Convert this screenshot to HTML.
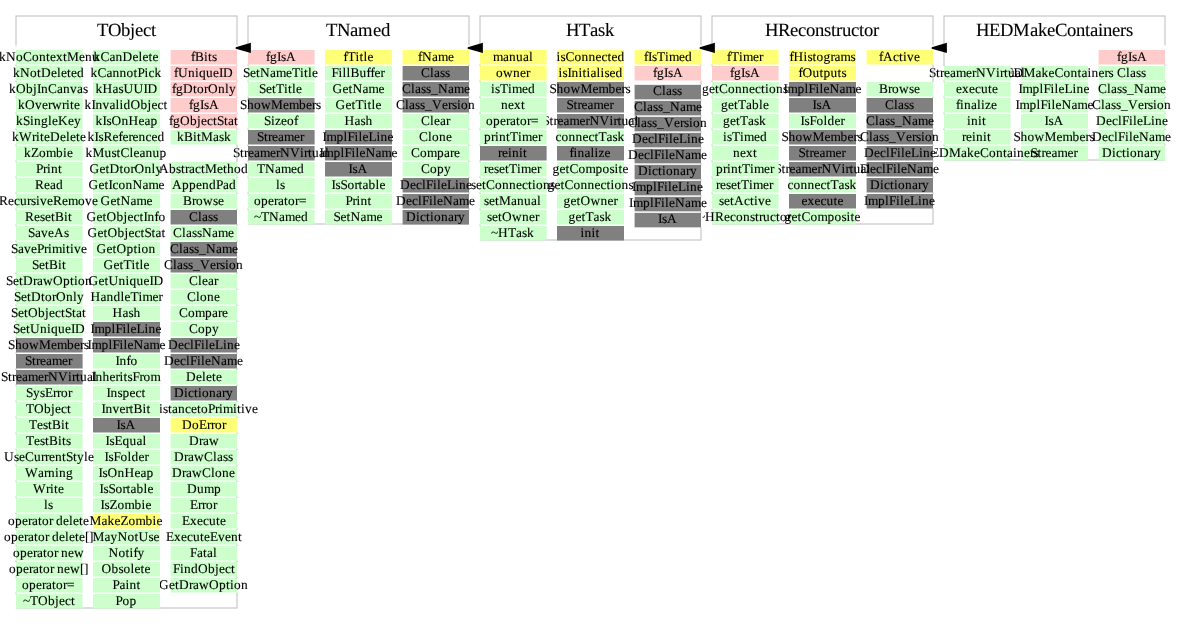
<!DOCTYPE html>
<html><head><meta charset="utf-8"><style>
html,body{margin:0;padding:0;background:#fff;width:1181px;height:624px;overflow:hidden}
svg{display:block}
text{text-rendering:geometricPrecision;font-family:"Liberation Serif",serif;fill:#000;stroke:#000;stroke-width:0.1px}

svg{will-change:transform}
</style></head><body>
<svg width="1181" height="624" viewBox="0 0 1181 624">
<rect x="944" y="16" width="221" height="144" fill="none" stroke="#bcbcbc" stroke-width="1"/>
<text x="976 989 1000 1013 1030 1038 1047 1055 1067 1076 1085 1090 1098 1103 1112 1120 1126" y="36" font-size="18.67">HEDMakeContainers</text>
<rect x="1164" y="45.5" width="2.5" height="19.0" fill="#fff"/>
<rect x="1098.6" y="50" width="66.4" height="14.5" fill="#ffcccc"/><text x="1117 1121 1128 1132 1137" y="60.8" font-size="13.333">fgIsA</text>
<rect x="1164" y="66" width="2.5" height="14.5" fill="#fff"/>
<rect x="1098.6" y="66" width="66.4" height="14.5" fill="#ccffcc"/><text x="1117 1126 1130 1136 1141" y="76.8" font-size="13.333">Class</text>
<rect x="1164" y="82" width="2.5" height="14.5" fill="#fff"/>
<rect x="1098.6" y="82" width="66.4" height="14.5" fill="#ccffcc"/><text x="1098 1107 1111 1117 1122 1127 1134 1144 1150 1160" y="92.8" font-size="13.333">Class_Name</text>
<rect x="1164" y="98" width="2.5" height="14.5" fill="#fff"/>
<rect x="1098.6" y="98" width="66.4" height="14.5" fill="#ccffcc"/><text x="1092 1101 1105 1111 1116 1121 1128 1138 1144 1148 1153 1157 1164" y="108.8" font-size="13.333">Class_Version</text>
<rect x="1164" y="114" width="2.5" height="14.5" fill="#fff"/>
<rect x="1098.6" y="114" width="66.4" height="14.5" fill="#ccffcc"/><text x="1096 1106 1112 1118 1122 1129 1133 1137 1143 1151 1155 1162" y="124.8" font-size="13.333">DeclFileLine</text>
<rect x="1164" y="130" width="2.5" height="14.5" fill="#fff"/>
<rect x="1098.6" y="130" width="66.4" height="14.5" fill="#ccffcc"/><text x="1092 1102 1108 1114 1118 1125 1129 1133 1139 1149 1155 1165" y="140.8" font-size="13.333">DeclFileName</text>
<rect x="1164" y="146" width="2.5" height="14.5" fill="#fff"/>
<rect x="1098.6" y="146" width="66.4" height="14.5" fill="#ccffcc"/><text x="1102 1112 1116 1122 1126 1130 1137 1144 1150 1154" y="156.8" font-size="13.333">Dictionary</text>
<rect x="1021" y="66" width="67" height="14.5" fill="#ccffcc"/><text x="995.5 1005.5 1013.5 1023.5 1035.5 1041.5 1048.5 1054.5 1063.5 1070.5 1077.5 1081.5 1087.5 1091.5 1098.5 1104.5 1108.5" y="76.8" font-size="13.333">HEDMakeContainers</text>
<rect x="1021" y="82" width="67" height="14.5" fill="#ccffcc"/><text x="1018.5 1022.5 1032.5 1039.5 1043.5 1050.5 1054.5 1058.5 1064.5 1072.5 1076.5 1083.5" y="92.8" font-size="13.333">ImplFileLine</text>
<rect x="1021" y="98" width="67" height="14.5" fill="#ccffcc"/><text x="1015.5 1019.5 1029.5 1036.5 1040.5 1047.5 1051.5 1055.5 1061.5 1071.5 1077.5 1087.5" y="108.8" font-size="13.333">ImplFileName</text>
<rect x="1021" y="114" width="67" height="14.5" fill="#ccffcc"/><text x="1044.5 1048.5 1053.5" y="124.8" font-size="13.333">IsA</text>
<rect x="1021" y="130" width="67" height="14.5" fill="#ccffcc"/><text x="1013.5 1020.5 1027.5 1034.5 1044.5 1056.5 1062.5 1072.5 1079.5 1085.5 1089.5" y="140.8" font-size="13.333">ShowMembers</text>
<rect x="1021" y="146" width="67" height="14.5" fill="#ccffcc"/><text x="1030.5 1037.5 1041.5 1045.5 1051.5 1057.5 1067.5 1073.5" y="156.8" font-size="13.333">Streamer</text>
<rect x="942.5" y="66" width="2.5" height="14.5" fill="#fff"/>
<rect x="944" y="66" width="66.6" height="14.5" fill="#ccffcc"/><text x="929 936 940 944 950 956 966 972 976 986 996 1000 1004 1008 1015 1021" y="76.8" font-size="13.333">StreamerNVirtual</text>
<rect x="942.5" y="82" width="2.5" height="14.5" fill="#fff"/>
<rect x="944" y="82" width="66.6" height="14.5" fill="#ccffcc"/><text x="956 962 969 975 981 988 992" y="92.8" font-size="13.333">execute</text>
<rect x="942.5" y="98" width="2.5" height="14.5" fill="#fff"/>
<rect x="944" y="98" width="66.6" height="14.5" fill="#ccffcc"/><text x="956 960 964 971 977 981 985 991" y="108.8" font-size="13.333">finalize</text>
<rect x="942.5" y="114" width="2.5" height="14.5" fill="#fff"/>
<rect x="944" y="114" width="66.6" height="14.5" fill="#ccffcc"/><text x="967 971 978 982" y="124.8" font-size="13.333">init</text>
<rect x="942.5" y="130" width="2.5" height="14.5" fill="#fff"/>
<rect x="944" y="130" width="66.6" height="14.5" fill="#ccffcc"/><text x="962 966 972 976 983 987" y="140.8" font-size="13.333">reinit</text>
<rect x="942.5" y="146" width="2.5" height="14.5" fill="#fff"/>
<rect x="944" y="146" width="66.6" height="14.5" fill="#ccffcc"/><text x="914 921 931 939 949 961 967 974 980 989 996 1003 1007 1013 1017 1024 1030 1034" y="156.8" font-size="13.333">~HEDMakeContainers</text>
<rect x="712" y="16" width="221" height="208" fill="none" stroke="#bcbcbc" stroke-width="1"/>
<text x="765 778 790 798 806 815 824 831 836 842 851 859 864 873" y="36" font-size="18.67">HReconstructor</text>
<rect x="932" y="45.5" width="2.5" height="19.0" fill="#fff"/>
<rect x="866.6" y="50" width="66.4" height="14.5" fill="#ffff77"/><text x="879 883 893 899 903 907 914" y="60.8" font-size="13.333">fActive</text>
<rect x="932" y="82" width="2.5" height="14.5" fill="#fff"/>
<rect x="866.6" y="82" width="66.4" height="14.5" fill="#ccffcc"/><text x="879 888 892 899 909 914" y="92.8" font-size="13.333">Browse</text>
<rect x="932" y="98" width="2.5" height="14.5" fill="#fff"/>
<rect x="866.6" y="98" width="66.4" height="14.5" fill="#808080"/><text x="885 894 898 904 909" y="108.8" font-size="13.333">Class</text>
<rect x="932" y="114" width="2.5" height="14.5" fill="#fff"/>
<rect x="866.6" y="114" width="66.4" height="14.5" fill="#808080"/><text x="866 875 879 885 890 895 902 912 918 928" y="124.8" font-size="13.333">Class_Name</text>
<rect x="932" y="130" width="2.5" height="14.5" fill="#fff"/>
<rect x="866.6" y="130" width="66.4" height="14.5" fill="#808080"/><text x="860 869 873 879 884 889 896 906 912 916 921 925 932" y="140.8" font-size="13.333">Class_Version</text>
<rect x="932" y="146" width="2.5" height="14.5" fill="#fff"/>
<rect x="866.6" y="146" width="66.4" height="14.5" fill="#808080"/><text x="864 874 880 886 890 897 901 905 911 919 923 930" y="156.8" font-size="13.333">DeclFileLine</text>
<rect x="932" y="162" width="2.5" height="14.5" fill="#fff"/>
<rect x="866.6" y="162" width="66.4" height="14.5" fill="#808080"/><text x="860 870 876 882 886 893 897 901 907 917 923 933" y="172.8" font-size="13.333">DeclFileName</text>
<rect x="932" y="178" width="2.5" height="14.5" fill="#fff"/>
<rect x="866.6" y="178" width="66.4" height="14.5" fill="#808080"/><text x="870 880 884 890 894 898 905 912 918 922" y="188.8" font-size="13.333">Dictionary</text>
<rect x="932" y="194" width="2.5" height="14.5" fill="#fff"/>
<rect x="866.6" y="194" width="66.4" height="14.5" fill="#808080"/><text x="864 868 878 885 889 896 900 904 910 918 922 929" y="204.8" font-size="13.333">ImplFileLine</text>
<rect x="789" y="50" width="67" height="14.5" fill="#ffff77"/><text x="789.5 793.5 803.5 807.5 812.5 816.5 823.5 830.5 834.5 840.5 850.5" y="60.8" font-size="13.333">fHistograms</text>
<rect x="789" y="66" width="67" height="14.5" fill="#ffff77"/><text x="798.5 802.5 812.5 819.5 823.5 830.5 837.5 841.5" y="76.8" font-size="13.333">fOutputs</text>
<rect x="789" y="82" width="67" height="14.5" fill="#808080"/><text x="783.5 787.5 797.5 804.5 808.5 815.5 819.5 823.5 829.5 839.5 845.5 855.5" y="92.8" font-size="13.333">ImplFileName</text>
<rect x="789" y="98" width="67" height="14.5" fill="#808080"/><text x="812.5 816.5 821.5" y="108.8" font-size="13.333">IsA</text>
<rect x="789" y="114" width="67" height="14.5" fill="#ccffcc"/><text x="800.5 804.5 809.5 816.5 823.5 827.5 834.5 840.5" y="124.8" font-size="13.333">IsFolder</text>
<rect x="789" y="130" width="67" height="14.5" fill="#808080"/><text x="781.5 788.5 795.5 802.5 812.5 824.5 830.5 840.5 847.5 853.5 857.5" y="140.8" font-size="13.333">ShowMembers</text>
<rect x="789" y="146" width="67" height="14.5" fill="#808080"/><text x="798.5 805.5 809.5 813.5 819.5 825.5 835.5 841.5" y="156.8" font-size="13.333">Streamer</text>
<rect x="789" y="162" width="67" height="14.5" fill="#808080"/><text x="774.5 781.5 785.5 789.5 795.5 801.5 811.5 817.5 821.5 831.5 841.5 845.5 849.5 853.5 860.5 866.5" y="172.8" font-size="13.333">StreamerNVirtual</text>
<rect x="789" y="178" width="67" height="14.5" fill="#ccffcc"/><text x="787.5 793.5 800.5 807.5 814.5 820.5 826.5 830.5 838.5 844.5 849.5" y="188.8" font-size="13.333">connectTask</text>
<rect x="789" y="194" width="67" height="14.5" fill="#808080"/><text x="801.5 807.5 814.5 820.5 826.5 833.5 837.5" y="204.8" font-size="13.333">execute</text>
<rect x="789" y="210" width="67" height="14.5" fill="#ccffcc"/><text x="784.5 791.5 797.5 801.5 810.5 817.5 827.5 834.5 841.5 846.5 850.5 854.5" y="220.8" font-size="13.333">getComposite</text>
<rect x="710.5" y="45.5" width="2.5" height="19.0" fill="#fff"/>
<rect x="712" y="50" width="66.6" height="14.5" fill="#ffff77"/><text x="727 731 739 743 753 759" y="60.8" font-size="13.333">fTimer</text>
<rect x="710.5" y="66" width="2.5" height="14.5" fill="#fff"/>
<rect x="712" y="66" width="66.6" height="14.5" fill="#ffcccc"/><text x="730 734 741 745 750" y="76.8" font-size="13.333">fgIsA</text>
<rect x="710.5" y="82" width="2.5" height="14.5" fill="#fff"/>
<rect x="712" y="82" width="66.6" height="14.5" fill="#ccffcc"/><text x="702 709 715 719 728 735 742 749 755 761 765 769 776 783" y="92.8" font-size="13.333">getConnections</text>
<rect x="710.5" y="98" width="2.5" height="14.5" fill="#fff"/>
<rect x="712" y="98" width="66.6" height="14.5" fill="#ccffcc"/><text x="721 728 734 738 746 752 759 763" y="108.8" font-size="13.333">getTable</text>
<rect x="710.5" y="114" width="2.5" height="14.5" fill="#fff"/>
<rect x="712" y="114" width="66.6" height="14.5" fill="#ccffcc"/><text x="723 730 736 740 748 754 759" y="124.8" font-size="13.333">getTask</text>
<rect x="710.5" y="130" width="2.5" height="14.5" fill="#fff"/>
<rect x="712" y="130" width="66.6" height="14.5" fill="#ccffcc"/><text x="723 727 732 740 744 754 760" y="140.8" font-size="13.333">isTimed</text>
<rect x="710.5" y="146" width="2.5" height="14.5" fill="#fff"/>
<rect x="712" y="146" width="66.6" height="14.5" fill="#ccffcc"/><text x="733 740 746 753" y="156.8" font-size="13.333">next</text>
<rect x="710.5" y="162" width="2.5" height="14.5" fill="#fff"/>
<rect x="712" y="162" width="66.6" height="14.5" fill="#ccffcc"/><text x="716 723 727 731 738 742 750 754 764 770" y="172.8" font-size="13.333">printTimer</text>
<rect x="710.5" y="178" width="2.5" height="14.5" fill="#fff"/>
<rect x="712" y="178" width="66.6" height="14.5" fill="#ccffcc"/><text x="716 720 726 731 737 741 749 753 763 769" y="188.8" font-size="13.333">resetTimer</text>
<rect x="710.5" y="194" width="2.5" height="14.5" fill="#fff"/>
<rect x="712" y="194" width="66.6" height="14.5" fill="#ccffcc"/><text x="719 724 730 734 744 750 754 758 765" y="204.8" font-size="13.333">setActive</text>
<rect x="710.5" y="210" width="2.5" height="14.5" fill="#fff"/>
<rect x="712" y="210" width="66.6" height="14.5" fill="#ccffcc"/><text x="698 705 715 724 730 736 743 750 755 759 763 770 776 780 787" y="220.8" font-size="13.333">~HReconstructor</text>
<rect x="480" y="16" width="221" height="224" fill="none" stroke="#bcbcbc" stroke-width="1"/>
<text x="566 579 590 598 605" y="36" font-size="18.67">HTask</text>
<rect x="700" y="45.5" width="2.5" height="19.0" fill="#fff"/>
<rect x="634.6" y="50" width="66.4" height="14.5" fill="#ffff77"/><text x="644 648 652 657 665 669 679 685" y="60.8" font-size="13.333">fIsTimed</text>
<rect x="700" y="66" width="2.5" height="14.5" fill="#fff"/>
<rect x="634.6" y="66" width="66.4" height="14.5" fill="#ffcccc"/><text x="653 657 664 668 673" y="76.8" font-size="13.333">fgIsA</text>
<rect x="700" y="84.85" width="2.5" height="14.5" fill="#fff"/>
<rect x="634.6" y="84.85" width="66.4" height="14.5" fill="#808080"/><text x="653 662 666 672 677" y="94.8" font-size="13.333">Class</text>
<rect x="700" y="100.85" width="2.5" height="14.5" fill="#fff"/>
<rect x="634.6" y="100.85" width="66.4" height="14.5" fill="#808080"/><text x="634 643 647 653 658 663 670 680 686 696" y="110.8" font-size="13.333">Class_Name</text>
<rect x="700" y="116.85" width="2.5" height="14.5" fill="#fff"/>
<rect x="634.6" y="116.85" width="66.4" height="14.5" fill="#808080"/><text x="628 637 641 647 652 657 664 674 680 684 689 693 700" y="126.8" font-size="13.333">Class_Version</text>
<rect x="700" y="132.85" width="2.5" height="14.5" fill="#fff"/>
<rect x="634.6" y="132.85" width="66.4" height="14.5" fill="#808080"/><text x="632 642 648 654 658 665 669 673 679 687 691 698" y="142.8" font-size="13.333">DeclFileLine</text>
<rect x="700" y="148.85" width="2.5" height="14.5" fill="#fff"/>
<rect x="634.6" y="148.85" width="66.4" height="14.5" fill="#808080"/><text x="628 638 644 650 654 661 665 669 675 685 691 701" y="158.8" font-size="13.333">DeclFileName</text>
<rect x="700" y="164.85" width="2.5" height="14.5" fill="#fff"/>
<rect x="634.6" y="164.85" width="66.4" height="14.5" fill="#808080"/><text x="638 648 652 658 662 666 673 680 686 690" y="174.8" font-size="13.333">Dictionary</text>
<rect x="700" y="180.85" width="2.5" height="14.5" fill="#fff"/>
<rect x="634.6" y="180.85" width="66.4" height="14.5" fill="#808080"/><text x="632 636 646 653 657 664 668 672 678 686 690 697" y="190.8" font-size="13.333">ImplFileLine</text>
<rect x="700" y="196.85" width="2.5" height="14.5" fill="#fff"/>
<rect x="634.6" y="196.85" width="66.4" height="14.5" fill="#808080"/><text x="629 633 643 650 654 661 665 669 675 685 691 701" y="206.8" font-size="13.333">ImplFileName</text>
<rect x="700" y="212.85" width="2.5" height="14.5" fill="#fff"/>
<rect x="634.6" y="212.85" width="66.4" height="14.5" fill="#808080"/><text x="658 662 667" y="222.8" font-size="13.333">IsA</text>
<rect x="557" y="50" width="67" height="14.5" fill="#ffff77"/><text x="556.5 560.5 565.5 574.5 581.5 588.5 595.5 601.5 607.5 611.5 617.5" y="60.8" font-size="13.333">isConnected</text>
<rect x="557" y="66" width="67" height="14.5" fill="#ffff77"/><text x="558.5 562.5 567.5 571.5 578.5 582.5 586.5 590.5 596.5 600.5 604.5 609.5 615.5" y="76.8" font-size="13.333">isInitialised</text>
<rect x="557" y="82" width="67" height="14.5" fill="#808080"/><text x="549.5 556.5 563.5 570.5 580.5 592.5 598.5 608.5 615.5 621.5 625.5" y="92.8" font-size="13.333">ShowMembers</text>
<rect x="557" y="98" width="67" height="14.5" fill="#808080"/><text x="566.5 573.5 577.5 581.5 587.5 593.5 603.5 609.5" y="108.8" font-size="13.333">Streamer</text>
<rect x="557" y="114" width="67" height="14.5" fill="#808080"/><text x="542.5 549.5 553.5 557.5 563.5 569.5 579.5 585.5 589.5 599.5 609.5 613.5 617.5 621.5 628.5 634.5" y="124.8" font-size="13.333">StreamerNVirtual</text>
<rect x="557" y="130" width="67" height="14.5" fill="#ccffcc"/><text x="555.5 561.5 568.5 575.5 582.5 588.5 594.5 598.5 606.5 612.5 617.5" y="140.8" font-size="13.333">connectTask</text>
<rect x="557" y="146" width="67" height="14.5" fill="#808080"/><text x="569.5 573.5 577.5 584.5 590.5 594.5 598.5 604.5" y="156.8" font-size="13.333">finalize</text>
<rect x="557" y="162" width="67" height="14.5" fill="#ccffcc"/><text x="552.5 559.5 565.5 569.5 578.5 585.5 595.5 602.5 609.5 614.5 618.5 622.5" y="172.8" font-size="13.333">getComposite</text>
<rect x="557" y="178" width="67" height="14.5" fill="#ccffcc"/><text x="547.5 554.5 560.5 564.5 573.5 580.5 587.5 594.5 600.5 606.5 610.5 614.5 621.5 628.5" y="188.8" font-size="13.333">getConnections</text>
<rect x="557" y="194" width="67" height="14.5" fill="#ccffcc"/><text x="563.5 570.5 576.5 580.5 590.5 600.5 607.5 613.5" y="204.8" font-size="13.333">getOwner</text>
<rect x="557" y="210" width="67" height="14.5" fill="#ccffcc"/><text x="568.5 575.5 581.5 585.5 593.5 599.5 604.5" y="220.8" font-size="13.333">getTask</text>
<rect x="557" y="226" width="67" height="14.5" fill="#808080"/><text x="580.5 584.5 591.5 595.5" y="236.8" font-size="13.333">init</text>
<rect x="478.5" y="45.5" width="2.5" height="19.0" fill="#fff"/>
<rect x="480" y="50" width="66.6" height="14.5" fill="#ffff77"/><text x="493 503 509 516 523 529" y="60.8" font-size="13.333">manual</text>
<rect x="478.5" y="66" width="2.5" height="14.5" fill="#fff"/>
<rect x="480" y="66" width="66.6" height="14.5" fill="#ffff77"/><text x="496 503 513 520 526" y="76.8" font-size="13.333">owner</text>
<rect x="478.5" y="82" width="2.5" height="14.5" fill="#fff"/>
<rect x="480" y="82" width="66.6" height="14.5" fill="#ccffcc"/><text x="491 495 500 508 512 522 528" y="92.8" font-size="13.333">isTimed</text>
<rect x="478.5" y="98" width="2.5" height="14.5" fill="#fff"/>
<rect x="480" y="98" width="66.6" height="14.5" fill="#ccffcc"/><text x="501 508 514 521" y="108.8" font-size="13.333">next</text>
<rect x="478.5" y="114" width="2.5" height="14.5" fill="#fff"/>
<rect x="480" y="114" width="66.6" height="14.5" fill="#ccffcc"/><text x="486 493 500 506 510 516 520 527 531" y="124.8" font-size="13.333">operator=</text>
<rect x="478.5" y="130" width="2.5" height="14.5" fill="#fff"/>
<rect x="480" y="130" width="66.6" height="14.5" fill="#ccffcc"/><text x="484 491 495 499 506 510 518 522 532 538" y="140.8" font-size="13.333">printTimer</text>
<rect x="478.5" y="146" width="2.5" height="14.5" fill="#fff"/>
<rect x="480" y="146" width="66.6" height="14.5" fill="#808080"/><text x="498 502 508 512 519 523" y="156.8" font-size="13.333">reinit</text>
<rect x="478.5" y="162" width="2.5" height="14.5" fill="#fff"/>
<rect x="480" y="162" width="66.6" height="14.5" fill="#ccffcc"/><text x="484 488 494 499 505 509 517 521 531 537" y="172.8" font-size="13.333">resetTimer</text>
<rect x="478.5" y="178" width="2.5" height="14.5" fill="#fff"/>
<rect x="480" y="178" width="66.6" height="14.5" fill="#ccffcc"/><text x="471 476 482 486 495 502 509 516 522 528 532 536 543 550" y="188.8" font-size="13.333">setConnections</text>
<rect x="478.5" y="194" width="2.5" height="14.5" fill="#fff"/>
<rect x="480" y="194" width="66.6" height="14.5" fill="#ccffcc"/><text x="484 489 495 499 511 517 524 531 537" y="204.8" font-size="13.333">setManual</text>
<rect x="478.5" y="210" width="2.5" height="14.5" fill="#fff"/>
<rect x="480" y="210" width="66.6" height="14.5" fill="#ccffcc"/><text x="487 492 498 502 512 522 529 535" y="220.8" font-size="13.333">setOwner</text>
<rect x="478.5" y="226" width="2.5" height="14.5" fill="#fff"/>
<rect x="480" y="226" width="66.6" height="14.5" fill="#ccffcc"/><text x="491 498 508 516 522 527" y="236.8" font-size="13.333">~HTask</text>
<rect x="248" y="16" width="221" height="208" fill="none" stroke="#bcbcbc" stroke-width="1"/>
<text x="326 337 350 358 373 381" y="36" font-size="18.67">TNamed</text>
<rect x="468" y="45.5" width="2.5" height="19.0" fill="#fff"/>
<rect x="402.6" y="50" width="66.4" height="14.5" fill="#ffff77"/><text x="418 422 432 438 448" y="60.8" font-size="13.333">fName</text>
<rect x="468" y="66" width="2.5" height="14.5" fill="#fff"/>
<rect x="402.6" y="66" width="66.4" height="14.5" fill="#808080"/><text x="421 430 434 440 445" y="76.8" font-size="13.333">Class</text>
<rect x="468" y="82" width="2.5" height="14.5" fill="#fff"/>
<rect x="402.6" y="82" width="66.4" height="14.5" fill="#808080"/><text x="402 411 415 421 426 431 438 448 454 464" y="92.8" font-size="13.333">Class_Name</text>
<rect x="468" y="98" width="2.5" height="14.5" fill="#fff"/>
<rect x="402.6" y="98" width="66.4" height="14.5" fill="#808080"/><text x="396 405 409 415 420 425 432 442 448 452 457 461 468" y="108.8" font-size="13.333">Class_Version</text>
<rect x="468" y="114" width="2.5" height="14.5" fill="#fff"/>
<rect x="402.6" y="114" width="66.4" height="14.5" fill="#ccffcc"/><text x="421 430 434 440 446" y="124.8" font-size="13.333">Clear</text>
<rect x="468" y="130" width="2.5" height="14.5" fill="#fff"/>
<rect x="402.6" y="130" width="66.4" height="14.5" fill="#ccffcc"/><text x="419 428 432 439 446" y="140.8" font-size="13.333">Clone</text>
<rect x="468" y="146" width="2.5" height="14.5" fill="#fff"/>
<rect x="402.6" y="146" width="66.4" height="14.5" fill="#ccffcc"/><text x="411 420 427 437 444 450 454" y="156.8" font-size="13.333">Compare</text>
<rect x="468" y="162" width="2.5" height="14.5" fill="#fff"/>
<rect x="402.6" y="162" width="66.4" height="14.5" fill="#ccffcc"/><text x="421 430 437 444" y="172.8" font-size="13.333">Copy</text>
<rect x="468" y="178" width="2.5" height="14.5" fill="#fff"/>
<rect x="402.6" y="178" width="66.4" height="14.5" fill="#808080"/><text x="400 410 416 422 426 433 437 441 447 455 459 466" y="188.8" font-size="13.333">DeclFileLine</text>
<rect x="468" y="194" width="2.5" height="14.5" fill="#fff"/>
<rect x="402.6" y="194" width="66.4" height="14.5" fill="#808080"/><text x="396 406 412 418 422 429 433 437 443 453 459 469" y="204.8" font-size="13.333">DeclFileName</text>
<rect x="468" y="210" width="2.5" height="14.5" fill="#fff"/>
<rect x="402.6" y="210" width="66.4" height="14.5" fill="#808080"/><text x="406 416 420 426 430 434 441 448 454 458" y="220.8" font-size="13.333">Dictionary</text>
<rect x="325" y="50" width="67" height="14.5" fill="#ffff77"/><text x="343.5 347.5 355.5 359.5 363.5 367.5" y="60.8" font-size="13.333">fTitle</text>
<rect x="325" y="66" width="67" height="14.5" fill="#ccffcc"/><text x="331.5 338.5 342.5 346.5 350.5 359.5 366.5 370.5 374.5 380.5" y="76.8" font-size="13.333">FillBuffer</text>
<rect x="325" y="82" width="67" height="14.5" fill="#ccffcc"/><text x="332.5 342.5 348.5 352.5 362.5 368.5 378.5" y="92.8" font-size="13.333">GetName</text>
<rect x="325" y="98" width="67" height="14.5" fill="#ccffcc"/><text x="335.5 345.5 351.5 355.5 363.5 367.5 371.5 375.5" y="108.8" font-size="13.333">GetTitle</text>
<rect x="325" y="114" width="67" height="14.5" fill="#ccffcc"/><text x="344.5 354.5 360.5 365.5" y="124.8" font-size="13.333">Hash</text>
<rect x="325" y="130" width="67" height="14.5" fill="#808080"/><text x="322.5 326.5 336.5 343.5 347.5 354.5 358.5 362.5 368.5 376.5 380.5 387.5" y="140.8" font-size="13.333">ImplFileLine</text>
<rect x="325" y="146" width="67" height="14.5" fill="#808080"/><text x="319.5 323.5 333.5 340.5 344.5 351.5 355.5 359.5 365.5 375.5 381.5 391.5" y="156.8" font-size="13.333">ImplFileName</text>
<rect x="325" y="162" width="67" height="14.5" fill="#808080"/><text x="348.5 352.5 357.5" y="172.8" font-size="13.333">IsA</text>
<rect x="325" y="178" width="67" height="14.5" fill="#ccffcc"/><text x="331.5 335.5 340.5 347.5 354.5 358.5 362.5 368.5 375.5 379.5" y="188.8" font-size="13.333">IsSortable</text>
<rect x="325" y="194" width="67" height="14.5" fill="#ccffcc"/><text x="345.5 352.5 356.5 360.5 367.5" y="204.8" font-size="13.333">Print</text>
<rect x="325" y="210" width="67" height="14.5" fill="#ccffcc"/><text x="333.5 340.5 346.5 350.5 360.5 366.5 376.5" y="220.8" font-size="13.333">SetName</text>
<rect x="246.5" y="45.5" width="2.5" height="19.0" fill="#fff"/>
<rect x="248" y="50" width="66.6" height="14.5" fill="#ffcccc"/><text x="266 270 277 281 286" y="60.8" font-size="13.333">fgIsA</text>
<rect x="246.5" y="66" width="2.5" height="14.5" fill="#fff"/>
<rect x="248" y="66" width="66.6" height="14.5" fill="#ccffcc"/><text x="243 250 256 260 270 276 286 292 300 304 308 312" y="76.8" font-size="13.333">SetNameTitle</text>
<rect x="246.5" y="82" width="2.5" height="14.5" fill="#fff"/>
<rect x="248" y="82" width="66.6" height="14.5" fill="#ccffcc"/><text x="259 266 272 276 284 288 292 296" y="92.8" font-size="13.333">SetTitle</text>
<rect x="246.5" y="98" width="2.5" height="14.5" fill="#fff"/>
<rect x="248" y="98" width="66.6" height="14.5" fill="#808080"/><text x="240 247 254 261 271 283 289 299 306 312 316" y="108.8" font-size="13.333">ShowMembers</text>
<rect x="246.5" y="114" width="2.5" height="14.5" fill="#fff"/>
<rect x="248" y="114" width="66.6" height="14.5" fill="#ccffcc"/><text x="264 271 275 281 287 294" y="124.8" font-size="13.333">Sizeof</text>
<rect x="246.5" y="130" width="2.5" height="14.5" fill="#fff"/>
<rect x="248" y="130" width="66.6" height="14.5" fill="#808080"/><text x="257 264 268 272 278 284 294 300" y="140.8" font-size="13.333">Streamer</text>
<rect x="246.5" y="146" width="2.5" height="14.5" fill="#fff"/>
<rect x="248" y="146" width="66.6" height="14.5" fill="#808080"/><text x="233 240 244 248 254 260 270 276 280 290 300 304 308 312 319 325" y="156.8" font-size="13.333">StreamerNVirtual</text>
<rect x="246.5" y="162" width="2.5" height="14.5" fill="#fff"/>
<rect x="248" y="162" width="66.6" height="14.5" fill="#ccffcc"/><text x="257 265 275 281 291 297" y="172.8" font-size="13.333">TNamed</text>
<rect x="246.5" y="178" width="2.5" height="14.5" fill="#fff"/>
<rect x="248" y="178" width="66.6" height="14.5" fill="#ccffcc"/><text x="276 280" y="188.8" font-size="13.333">ls</text>
<rect x="246.5" y="194" width="2.5" height="14.5" fill="#fff"/>
<rect x="248" y="194" width="66.6" height="14.5" fill="#ccffcc"/><text x="254 261 268 274 278 284 288 295 299" y="204.8" font-size="13.333">operator=</text>
<rect x="246.5" y="210" width="2.5" height="14.5" fill="#fff"/>
<rect x="248" y="210" width="66.6" height="14.5" fill="#ccffcc"/><text x="254 261 269 279 285 295 301" y="220.8" font-size="13.333">~TNamed</text>
<rect x="16" y="16" width="221" height="592" fill="none" stroke="#bcbcbc" stroke-width="1"/>
<text x="97 108 121 130 135 143 151" y="36" font-size="18.67">TObject</text>
<rect x="236" y="45.5" width="2.5" height="19.0" fill="#fff"/>
<rect x="170.6" y="50" width="66.4" height="14.5" fill="#ffcccc"/><text x="191 195 204 208 212" y="60.8" font-size="13.333">fBits</text>
<rect x="236" y="66" width="2.5" height="14.5" fill="#fff"/>
<rect x="170.6" y="66" width="66.4" height="14.5" fill="#ffcccc"/><text x="174 178 188 195 199 206 213 219 223" y="76.8" font-size="13.333">fUniqueID</text>
<rect x="236" y="82" width="2.5" height="14.5" fill="#fff"/>
<rect x="170.6" y="82" width="66.4" height="14.5" fill="#ffcccc"/><text x="172 176 183 193 197 204 208 218 225 229" y="92.8" font-size="13.333">fgDtorOnly</text>
<rect x="236" y="98" width="2.5" height="14.5" fill="#fff"/>
<rect x="170.6" y="98" width="66.4" height="14.5" fill="#ffcccc"/><text x="189 193 200 204 209" y="108.8" font-size="13.333">fgIsA</text>
<rect x="236" y="114" width="2.5" height="14.5" fill="#fff"/>
<rect x="170.6" y="114" width="66.4" height="14.5" fill="#ffcccc"/><text x="169 173 180 190 197 201 207 213 217 224 228 234" y="124.8" font-size="13.333">fgObjectStat</text>
<rect x="236" y="130" width="2.5" height="14.5" fill="#fff"/>
<rect x="170.6" y="130" width="66.4" height="14.5" fill="#ccffcc"/><text x="177 184 193 197 201 213 219 224" y="140.8" font-size="13.333">kBitMask</text>
<rect x="236" y="162" width="2.5" height="14.5" fill="#fff"/>
<rect x="170.6" y="162" width="66.4" height="14.5" fill="#ccffcc"/><text x="159 169 176 181 185 189 195 201 205 217 223 227 234 241" y="172.8" font-size="13.333">AbstractMethod</text>
<rect x="236" y="178" width="2.5" height="14.5" fill="#fff"/>
<rect x="170.6" y="178" width="66.4" height="14.5" fill="#ccffcc"/><text x="172 182 189 196 202 209 216 223 229" y="188.8" font-size="13.333">AppendPad</text>
<rect x="236" y="194" width="2.5" height="14.5" fill="#fff"/>
<rect x="170.6" y="194" width="66.4" height="14.5" fill="#ccffcc"/><text x="183 192 196 203 213 218" y="204.8" font-size="13.333">Browse</text>
<rect x="236" y="210" width="2.5" height="14.5" fill="#fff"/>
<rect x="170.6" y="210" width="66.4" height="14.5" fill="#808080"/><text x="189 198 202 208 213" y="220.8" font-size="13.333">Class</text>
<rect x="236" y="226" width="2.5" height="14.5" fill="#fff"/>
<rect x="170.6" y="226" width="66.4" height="14.5" fill="#ccffcc"/><text x="173 182 186 192 197 202 212 218 228" y="236.8" font-size="13.333">ClassName</text>
<rect x="236" y="242" width="2.5" height="14.5" fill="#fff"/>
<rect x="170.6" y="242" width="66.4" height="14.5" fill="#808080"/><text x="170 179 183 189 194 199 206 216 222 232" y="252.8" font-size="13.333">Class_Name</text>
<rect x="236" y="258" width="2.5" height="14.5" fill="#fff"/>
<rect x="170.6" y="258" width="66.4" height="14.5" fill="#808080"/><text x="164 173 177 183 188 193 200 210 216 220 225 229 236" y="268.8" font-size="13.333">Class_Version</text>
<rect x="236" y="274" width="2.5" height="14.5" fill="#fff"/>
<rect x="170.6" y="274" width="66.4" height="14.5" fill="#ccffcc"/><text x="189 198 202 208 214" y="284.8" font-size="13.333">Clear</text>
<rect x="236" y="290" width="2.5" height="14.5" fill="#fff"/>
<rect x="170.6" y="290" width="66.4" height="14.5" fill="#ccffcc"/><text x="187 196 200 207 214" y="300.8" font-size="13.333">Clone</text>
<rect x="236" y="306" width="2.5" height="14.5" fill="#fff"/>
<rect x="170.6" y="306" width="66.4" height="14.5" fill="#ccffcc"/><text x="179 188 195 205 212 218 222" y="316.8" font-size="13.333">Compare</text>
<rect x="236" y="322" width="2.5" height="14.5" fill="#fff"/>
<rect x="170.6" y="322" width="66.4" height="14.5" fill="#ccffcc"/><text x="189 198 205 212" y="332.8" font-size="13.333">Copy</text>
<rect x="236" y="338" width="2.5" height="14.5" fill="#fff"/>
<rect x="170.6" y="338" width="66.4" height="14.5" fill="#808080"/><text x="168 178 184 190 194 201 205 209 215 223 227 234" y="348.8" font-size="13.333">DeclFileLine</text>
<rect x="236" y="354" width="2.5" height="14.5" fill="#fff"/>
<rect x="170.6" y="354" width="66.4" height="14.5" fill="#808080"/><text x="164 174 180 186 190 197 201 205 211 221 227 237" y="364.8" font-size="13.333">DeclFileName</text>
<rect x="236" y="370" width="2.5" height="14.5" fill="#fff"/>
<rect x="170.6" y="370" width="66.4" height="14.5" fill="#ccffcc"/><text x="186 196 202 206 212 216" y="380.8" font-size="13.333">Delete</text>
<rect x="236" y="386" width="2.5" height="14.5" fill="#fff"/>
<rect x="170.6" y="386" width="66.4" height="14.5" fill="#808080"/><text x="174 184 188 194 198 202 209 216 222 226" y="396.8" font-size="13.333">Dictionary</text>
<rect x="236" y="402" width="2.5" height="14.5" fill="#fff"/>
<rect x="170.6" y="402" width="66.4" height="14.5" fill="#ccffcc"/><text x="149 159 163 168 172 178 185 191 197 201 208 215 219 223 233 237 241 245 252" y="412.8" font-size="13.333">DistancetoPrimitive</text>
<rect x="236" y="418" width="2.5" height="14.5" fill="#fff"/>
<rect x="170.6" y="418" width="66.4" height="14.5" fill="#ffff77"/><text x="182 192 199 207 211 215 222" y="428.8" font-size="13.333">DoError</text>
<rect x="236" y="434" width="2.5" height="14.5" fill="#fff"/>
<rect x="170.6" y="434" width="66.4" height="14.5" fill="#ccffcc"/><text x="189 199 203 209" y="444.8" font-size="13.333">Draw</text>
<rect x="236" y="450" width="2.5" height="14.5" fill="#fff"/>
<rect x="170.6" y="450" width="66.4" height="14.5" fill="#ccffcc"/><text x="174 184 188 194 204 213 217 223 228" y="460.8" font-size="13.333">DrawClass</text>
<rect x="236" y="466" width="2.5" height="14.5" fill="#fff"/>
<rect x="170.6" y="466" width="66.4" height="14.5" fill="#ccffcc"/><text x="172 182 186 192 202 211 215 222 229" y="476.8" font-size="13.333">DrawClone</text>
<rect x="236" y="482" width="2.5" height="14.5" fill="#fff"/>
<rect x="170.6" y="482" width="66.4" height="14.5" fill="#ccffcc"/><text x="187 197 204 214" y="492.8" font-size="13.333">Dump</text>
<rect x="236" y="498" width="2.5" height="14.5" fill="#fff"/>
<rect x="170.6" y="498" width="66.4" height="14.5" fill="#ccffcc"/><text x="190 198 202 206 213" y="508.8" font-size="13.333">Error</text>
<rect x="236" y="514" width="2.5" height="14.5" fill="#fff"/>
<rect x="170.6" y="514" width="66.4" height="14.5" fill="#ccffcc"/><text x="182 190 197 203 209 216 220" y="524.8" font-size="13.333">Execute</text>
<rect x="236" y="530" width="2.5" height="14.5" fill="#fff"/>
<rect x="170.6" y="530" width="66.4" height="14.5" fill="#ccffcc"/><text x="166 174 181 187 193 200 204 210 218 225 231 238" y="540.8" font-size="13.333">ExecuteEvent</text>
<rect x="236" y="546" width="2.5" height="14.5" fill="#fff"/>
<rect x="170.6" y="546" width="66.4" height="14.5" fill="#ccffcc"/><text x="190 197 203 207 213" y="556.8" font-size="13.333">Fatal</text>
<rect x="236" y="562" width="2.5" height="14.5" fill="#fff"/>
<rect x="170.6" y="562" width="66.4" height="14.5" fill="#ccffcc"/><text x="173 180 184 191 198 208 215 219 225 231" y="572.8" font-size="13.333">FindObject</text>
<rect x="236" y="578" width="2.5" height="14.5" fill="#fff"/>
<rect x="170.6" y="578" width="66.4" height="14.5" fill="#ccffcc"/><text x="159 169 175 179 189 193 199 209 219 226 230 234 241" y="588.8" font-size="13.333">GetDrawOption</text>
<rect x="93" y="50" width="67" height="14.5" fill="#ccffcc"/><text x="93.5 100.5 109.5 115.5 122.5 132.5 138.5 142.5 148.5 152.5" y="60.8" font-size="13.333">kCanDelete</text>
<rect x="93" y="66" width="67" height="14.5" fill="#ccffcc"/><text x="90.5 97.5 106.5 112.5 119.5 126.5 133.5 137.5 144.5 148.5 154.5" y="76.8" font-size="13.333">kCannotPick</text>
<rect x="93" y="82" width="67" height="14.5" fill="#ccffcc"/><text x="95.5 102.5 112.5 118.5 123.5 133.5 143.5 147.5" y="92.8" font-size="13.333">kHasUUID</text>
<rect x="93" y="98" width="67" height="14.5" fill="#ccffcc"/><text x="84.5 91.5 95.5 102.5 109.5 115.5 119.5 123.5 130.5 140.5 147.5 151.5 157.5 163.5" y="108.8" font-size="13.333">kInvalidObject</text>
<rect x="93" y="114" width="67" height="14.5" fill="#ccffcc"/><text x="95.5 102.5 106.5 111.5 121.5 128.5 138.5 144.5 150.5" y="124.8" font-size="13.333">kIsOnHeap</text>
<rect x="93" y="130" width="67" height="14.5" fill="#ccffcc"/><text x="87.5 94.5 98.5 103.5 112.5 118.5 122.5 128.5 132.5 138.5 145.5 151.5 157.5" y="140.8" font-size="13.333">kIsReferenced</text>
<rect x="93" y="146" width="67" height="14.5" fill="#ccffcc"/><text x="85.5 92.5 104.5 111.5 116.5 120.5 129.5 133.5 139.5 145.5 152.5 159.5" y="156.8" font-size="13.333">kMustCleanup</text>
<rect x="93" y="162" width="67" height="14.5" fill="#ccffcc"/><text x="89.5 99.5 105.5 109.5 119.5 123.5 130.5 134.5 144.5 151.5 155.5" y="172.8" font-size="13.333">GetDtorOnly</text>
<rect x="93" y="178" width="67" height="14.5" fill="#ccffcc"/><text x="88.5 98.5 104.5 108.5 112.5 118.5 125.5 132.5 142.5 148.5 158.5" y="188.8" font-size="13.333">GetIconName</text>
<rect x="93" y="194" width="67" height="14.5" fill="#ccffcc"/><text x="100.5 110.5 116.5 120.5 130.5 136.5 146.5" y="204.8" font-size="13.333">GetName</text>
<rect x="93" y="210" width="67" height="14.5" fill="#ccffcc"/><text x="86.5 96.5 102.5 106.5 116.5 123.5 127.5 133.5 139.5 143.5 147.5 154.5 158.5" y="220.8" font-size="13.333">GetObjectInfo</text>
<rect x="93" y="226" width="67" height="14.5" fill="#ccffcc"/><text x="87.5 97.5 103.5 107.5 117.5 124.5 128.5 134.5 140.5 144.5 151.5 155.5 161.5" y="236.8" font-size="13.333">GetObjectStat</text>
<rect x="93" y="242" width="67" height="14.5" fill="#ccffcc"/><text x="96.5 106.5 112.5 116.5 126.5 133.5 137.5 141.5 148.5" y="252.8" font-size="13.333">GetOption</text>
<rect x="93" y="258" width="67" height="14.5" fill="#ccffcc"/><text x="103.5 113.5 119.5 123.5 131.5 135.5 139.5 143.5" y="268.8" font-size="13.333">GetTitle</text>
<rect x="93" y="274" width="67" height="14.5" fill="#ccffcc"/><text x="88.5 98.5 104.5 108.5 118.5 125.5 129.5 136.5 143.5 149.5 153.5" y="284.8" font-size="13.333">GetUniqueID</text>
<rect x="93" y="290" width="67" height="14.5" fill="#ccffcc"/><text x="90.5 100.5 106.5 113.5 120.5 124.5 130.5 138.5 142.5 152.5 158.5" y="300.8" font-size="13.333">HandleTimer</text>
<rect x="93" y="306" width="67" height="14.5" fill="#ccffcc"/><text x="112.5 122.5 128.5 133.5" y="316.8" font-size="13.333">Hash</text>
<rect x="93" y="322" width="67" height="14.5" fill="#808080"/><text x="90.5 94.5 104.5 111.5 115.5 122.5 126.5 130.5 136.5 144.5 148.5 155.5" y="332.8" font-size="13.333">ImplFileLine</text>
<rect x="93" y="338" width="67" height="14.5" fill="#808080"/><text x="87.5 91.5 101.5 108.5 112.5 119.5 123.5 127.5 133.5 143.5 149.5 159.5" y="348.8" font-size="13.333">ImplFileName</text>
<rect x="93" y="354" width="67" height="14.5" fill="#ccffcc"/><text x="115.5 119.5 126.5 130.5" y="364.8" font-size="13.333">Info</text>
<rect x="93" y="370" width="67" height="14.5" fill="#ccffcc"/><text x="91.5 95.5 102.5 109.5 115.5 119.5 123.5 127.5 132.5 139.5 143.5 150.5" y="380.8" font-size="13.333">InheritsFrom</text>
<rect x="93" y="386" width="67" height="14.5" fill="#ccffcc"/><text x="106.5 110.5 117.5 122.5 129.5 135.5 141.5" y="396.8" font-size="13.333">Inspect</text>
<rect x="93" y="402" width="67" height="14.5" fill="#ccffcc"/><text x="101.5 105.5 112.5 119.5 125.5 129.5 133.5 142.5 146.5" y="412.8" font-size="13.333">InvertBit</text>
<rect x="93" y="418" width="67" height="14.5" fill="#808080"/><text x="116.5 120.5 125.5" y="428.8" font-size="13.333">IsA</text>
<rect x="93" y="434" width="67" height="14.5" fill="#ccffcc"/><text x="105.5 109.5 114.5 122.5 129.5 136.5 142.5" y="444.8" font-size="13.333">IsEqual</text>
<rect x="93" y="450" width="67" height="14.5" fill="#ccffcc"/><text x="104.5 108.5 113.5 120.5 127.5 131.5 138.5 144.5" y="460.8" font-size="13.333">IsFolder</text>
<rect x="93" y="466" width="67" height="14.5" fill="#ccffcc"/><text x="98.5 102.5 107.5 117.5 124.5 134.5 140.5 146.5" y="476.8" font-size="13.333">IsOnHeap</text>
<rect x="93" y="482" width="67" height="14.5" fill="#ccffcc"/><text x="99.5 103.5 108.5 115.5 122.5 126.5 130.5 136.5 143.5 147.5" y="492.8" font-size="13.333">IsSortable</text>
<rect x="93" y="498" width="67" height="14.5" fill="#ccffcc"/><text x="100.5 104.5 109.5 117.5 124.5 134.5 141.5 145.5" y="508.8" font-size="13.333">IsZombie</text>
<rect x="93" y="514" width="67" height="14.5" fill="#ffff77"/><text x="89.5 101.5 107.5 114.5 120.5 128.5 135.5 145.5 152.5 156.5" y="524.8" font-size="13.333">MakeZombie</text>
<rect x="93" y="530" width="67" height="14.5" fill="#ccffcc"/><text x="92.5 104.5 110.5 117.5 127.5 134.5 138.5 148.5 153.5" y="540.8" font-size="13.333">MayNotUse</text>
<rect x="93" y="546" width="67" height="14.5" fill="#ccffcc"/><text x="108.5 118.5 125.5 129.5 133.5 137.5" y="556.8" font-size="13.333">Notify</text>
<rect x="93" y="562" width="67" height="14.5" fill="#ccffcc"/><text x="101.5 111.5 118.5 123.5 130.5 134.5 140.5 144.5" y="572.8" font-size="13.333">Obsolete</text>
<rect x="93" y="578" width="67" height="14.5" fill="#ccffcc"/><text x="112.5 119.5 125.5 129.5 136.5" y="588.8" font-size="13.333">Paint</text>
<rect x="93" y="594" width="67" height="14.5" fill="#ccffcc"/><text x="115.5 122.5 129.5" y="604.8" font-size="13.333">Pop</text>
<rect x="14.5" y="45.5" width="2.5" height="19.0" fill="#fff"/>
<rect x="16" y="50" width="66.6" height="14.5" fill="#ccffcc"/><text x="-1 6 16 23 32 39 46 50 56 63 67 79 85 92" y="60.8" font-size="13.333">kNoContextMenu</text>
<rect x="14.5" y="66" width="2.5" height="14.5" fill="#fff"/>
<rect x="16" y="66" width="66.6" height="14.5" fill="#ccffcc"/><text x="13 20 30 37 41 51 57 61 67 71 77" y="76.8" font-size="13.333">kNotDeleted</text>
<rect x="14.5" y="82" width="2.5" height="14.5" fill="#fff"/>
<rect x="16" y="82" width="66.6" height="14.5" fill="#ccffcc"/><text x="9 16 26 33 37 41 48 57 63 70 77 83" y="92.8" font-size="13.333">kObjInCanvas</text>
<rect x="14.5" y="98" width="2.5" height="14.5" fill="#fff"/>
<rect x="16" y="98" width="66.6" height="14.5" fill="#ccffcc"/><text x="18 25 35 42 48 52 62 66 70 74" y="108.8" font-size="13.333">kOverwrite</text>
<rect x="14.5" y="114" width="2.5" height="14.5" fill="#fff"/>
<rect x="16" y="114" width="66.6" height="14.5" fill="#ccffcc"/><text x="16 23 30 34 41 48 52 58 68 74" y="124.8" font-size="13.333">kSingleKey</text>
<rect x="14.5" y="130" width="2.5" height="14.5" fill="#fff"/>
<rect x="16" y="130" width="66.6" height="14.5" fill="#ccffcc"/><text x="12 19 32 36 40 44 50 60 66 70 76 80" y="140.8" font-size="13.333">kWriteDelete</text>
<rect x="14.5" y="146" width="2.5" height="14.5" fill="#fff"/>
<rect x="16" y="146" width="66.6" height="14.5" fill="#ccffcc"/><text x="24 31 39 46 56 63 67" y="156.8" font-size="13.333">kZombie</text>
<rect x="14.5" y="162" width="2.5" height="14.5" fill="#fff"/>
<rect x="16" y="162" width="66.6" height="14.5" fill="#ccffcc"/><text x="36 43 47 51 58" y="172.8" font-size="13.333">Print</text>
<rect x="14.5" y="178" width="2.5" height="14.5" fill="#fff"/>
<rect x="16" y="178" width="66.6" height="14.5" fill="#ccffcc"/><text x="35 44 50 56" y="188.8" font-size="13.333">Read</text>
<rect x="14.5" y="194" width="2.5" height="14.5" fill="#fff"/>
<rect x="16" y="194" width="66.6" height="14.5" fill="#ccffcc"/><text x="-1 8 14 20 27 31 36 40 47 53 62 68 78 85 92" y="204.8" font-size="13.333">RecursiveRemove</text>
<rect x="14.5" y="210" width="2.5" height="14.5" fill="#fff"/>
<rect x="16" y="210" width="66.6" height="14.5" fill="#ccffcc"/><text x="25 34 40 45 51 55 64 68" y="220.8" font-size="13.333">ResetBit</text>
<rect x="14.5" y="226" width="2.5" height="14.5" fill="#fff"/>
<rect x="16" y="226" width="66.6" height="14.5" fill="#ccffcc"/><text x="28 35 41 48 54 64" y="236.8" font-size="13.333">SaveAs</text>
<rect x="14.5" y="242" width="2.5" height="14.5" fill="#fff"/>
<rect x="16" y="242" width="66.6" height="14.5" fill="#ccffcc"/><text x="11 18 24 31 37 44 48 52 62 66 70 74 81" y="252.8" font-size="13.333">SavePrimitive</text>
<rect x="14.5" y="258" width="2.5" height="14.5" fill="#fff"/>
<rect x="16" y="258" width="66.6" height="14.5" fill="#ccffcc"/><text x="32 39 45 49 58 62" y="268.8" font-size="13.333">SetBit</text>
<rect x="14.5" y="274" width="2.5" height="14.5" fill="#fff"/>
<rect x="16" y="274" width="66.6" height="14.5" fill="#ccffcc"/><text x="6 13 19 23 33 37 43 53 63 70 74 78 85" y="284.8" font-size="13.333">SetDrawOption</text>
<rect x="14.5" y="290" width="2.5" height="14.5" fill="#fff"/>
<rect x="16" y="290" width="66.6" height="14.5" fill="#ccffcc"/><text x="14 21 27 31 41 45 52 56 66 73 77" y="300.8" font-size="13.333">SetDtorOnly</text>
<rect x="14.5" y="306" width="2.5" height="14.5" fill="#fff"/>
<rect x="16" y="306" width="66.6" height="14.5" fill="#ccffcc"/><text x="11 18 24 28 38 45 49 55 61 65 72 76 82" y="316.8" font-size="13.333">SetObjectStat</text>
<rect x="14.5" y="322" width="2.5" height="14.5" fill="#fff"/>
<rect x="16" y="322" width="66.6" height="14.5" fill="#ccffcc"/><text x="13 20 26 30 40 47 51 58 65 71 75" y="332.8" font-size="13.333">SetUniqueID</text>
<rect x="14.5" y="338" width="2.5" height="14.5" fill="#fff"/>
<rect x="16" y="338" width="66.6" height="14.5" fill="#808080"/><text x="8 15 22 29 39 51 57 67 74 80 84" y="348.8" font-size="13.333">ShowMembers</text>
<rect x="14.5" y="354" width="2.5" height="14.5" fill="#fff"/>
<rect x="16" y="354" width="66.6" height="14.5" fill="#808080"/><text x="25 32 36 40 46 52 62 68" y="364.8" font-size="13.333">Streamer</text>
<rect x="14.5" y="370" width="2.5" height="14.5" fill="#fff"/>
<rect x="16" y="370" width="66.6" height="14.5" fill="#808080"/><text x="1 8 12 16 22 28 38 44 48 58 68 72 76 80 87 93" y="380.8" font-size="13.333">StreamerNVirtual</text>
<rect x="14.5" y="386" width="2.5" height="14.5" fill="#fff"/>
<rect x="16" y="386" width="66.6" height="14.5" fill="#ccffcc"/><text x="26 33 40 45 53 57 61 68" y="396.8" font-size="13.333">SysError</text>
<rect x="14.5" y="402" width="2.5" height="14.5" fill="#fff"/>
<rect x="16" y="402" width="66.6" height="14.5" fill="#ccffcc"/><text x="26 34 44 51 55 61 67" y="412.8" font-size="13.333">TObject</text>
<rect x="14.5" y="418" width="2.5" height="14.5" fill="#fff"/>
<rect x="16" y="418" width="66.6" height="14.5" fill="#ccffcc"/><text x="29 37 43 48 52 61 65" y="428.8" font-size="13.333">TestBit</text>
<rect x="14.5" y="434" width="2.5" height="14.5" fill="#fff"/>
<rect x="16" y="434" width="66.6" height="14.5" fill="#ccffcc"/><text x="26 34 40 45 49 58 62 66" y="444.8" font-size="13.333">TestBits</text>
<rect x="14.5" y="450" width="2.5" height="14.5" fill="#fff"/>
<rect x="16" y="450" width="66.6" height="14.5" fill="#ccffcc"/><text x="4 14 19 25 34 41 45 49 55 62 66 73 77 84 88" y="460.8" font-size="13.333">UseCurrentStyle</text>
<rect x="14.5" y="466" width="2.5" height="14.5" fill="#fff"/>
<rect x="16" y="466" width="66.6" height="14.5" fill="#ccffcc"/><text x="25 38 44 48 55 59 66" y="476.8" font-size="13.333">Warning</text>
<rect x="14.5" y="482" width="2.5" height="14.5" fill="#fff"/>
<rect x="16" y="482" width="66.6" height="14.5" fill="#ccffcc"/><text x="33 46 50 54 58" y="492.8" font-size="13.333">Write</text>
<rect x="14.5" y="498" width="2.5" height="14.5" fill="#fff"/>
<rect x="16" y="498" width="66.6" height="14.5" fill="#ccffcc"/><text x="44 48" y="508.8" font-size="13.333">ls</text>
<rect x="14.5" y="514" width="2.5" height="14.5" fill="#fff"/>
<rect x="16" y="514" width="66.6" height="14.5" fill="#ccffcc"/><text x="8 15 22 28 32 38 42 49 53 56 63 69 73 79 83" y="524.8" font-size="13.333">operator delete</text>
<rect x="14.5" y="530" width="2.5" height="14.5" fill="#fff"/>
<rect x="16" y="530" width="66.6" height="14.5" fill="#ccffcc"/><text x="4 11 18 24 28 34 38 45 49 52 59 65 69 75 79 85 89" y="540.8" font-size="13.333">operator delete[]</text>
<rect x="14.5" y="546" width="2.5" height="14.5" fill="#fff"/>
<rect x="16" y="546" width="66.6" height="14.5" fill="#ccffcc"/><text x="13 20 27 33 37 43 47 54 58 61 68 74" y="556.8" font-size="13.333">operator new</text>
<rect x="14.5" y="562" width="2.5" height="14.5" fill="#fff"/>
<rect x="16" y="562" width="66.6" height="14.5" fill="#ccffcc"/><text x="9 16 23 29 33 39 43 50 54 57 64 70 80 84" y="572.8" font-size="13.333">operator new[]</text>
<rect x="14.5" y="578" width="2.5" height="14.5" fill="#fff"/>
<rect x="16" y="578" width="66.6" height="14.5" fill="#ccffcc"/><text x="22 29 36 42 46 52 56 63 67" y="588.8" font-size="13.333">operator=</text>
<rect x="14.5" y="594" width="2.5" height="14.5" fill="#fff"/>
<rect x="16" y="594" width="66.6" height="14.5" fill="#ccffcc"/><text x="23 30 38 48 55 59 65 71" y="604.8" font-size="13.333">~TObject</text>
<path d="M235.7 47.3 L250.9 42.8 L250.9 53 L235.7 48.7 Z" fill="#000"/>
<path d="M467.7 47.3 L482.9 42.8 L482.9 53 L467.7 48.7 Z" fill="#000"/>
<path d="M699.7 47.3 L714.9 42.8 L714.9 53 L699.7 48.7 Z" fill="#000"/>
<path d="M931.7 47.3 L946.9 42.8 L946.9 53 L931.7 48.7 Z" fill="#000"/>
</svg>
</body></html>
